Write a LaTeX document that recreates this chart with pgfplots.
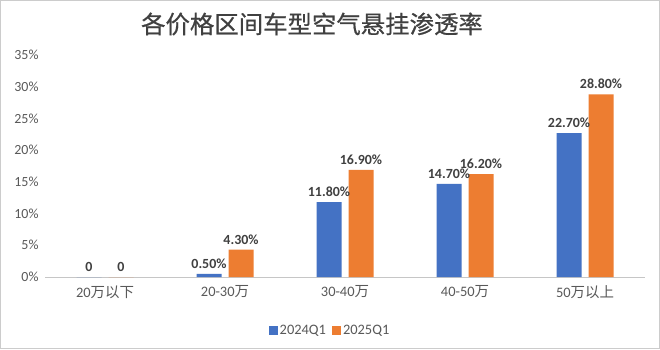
\documentclass[border=0pt]{standalone}
\usepackage{pgfplots}
\pgfplotsset{compat=1.18}
\usepackage{pgfplotstable}
\usepackage{fontspec}
\setmainfont{Carlito}
\newfontfamily\cjk{Noto Sans CJK SC}
\newfontfamily\cjktitle[FakeBold=0.6]{Noto Sans CJK SC}
\definecolor{cblue}{HTML}{4472C4}
\definecolor{corange}{HTML}{ED7D31}
\definecolor{tickgray}{HTML}{595959}
\definecolor{labgray}{HTML}{404040}
\pgfplotstableread{
x y label
0 0 0
1 0.5 0.50\%
2 11.8 11.80\%
3 14.7 14.70\%
4 22.7 22.70\%
}\dataA
\pgfplotstableread{
x y label
0 0 0
1 4.3 4.30\%
2 16.9 16.90\%
3 16.2 16.20\%
4 28.8 28.80\%
}\dataB
\begin{document}
\begin{tikzpicture}[x=1bp,y=1bp]
\draw[draw=gray!40, line width=1bp, fill=white] (0.5,0.5) rectangle (659.5,348.5);
\node[font={\cjktitle\fontsize{24.5}{30}\selectfont}, text=labgray] at (312,325) {各价格区间车型空气悬挂渗透率};
\begin{axis}[
  at={(45bp,72bp)}, anchor=south west,
  scale only axis, width=600bp, height=222bp,
  xmin=-0.5, xmax=4.5, ymin=0, ymax=35,
  axis x line*=bottom, axis y line*=left,
  y axis line style={draw=none},
  x axis line style={draw=gray!45, line width=0.8bp},
  xtick={0,1,2,3,4},
  xticklabels={{20{\cjk 万以下}},{20-30{\cjk 万}},{30-40{\cjk 万}},{40-50{\cjk 万}},{50{\cjk 万以上}}},
  ytick={0,5,...,35},
  yticklabel={\pgfmathprintnumber{\tick}\%},
  /pgf/number format/assume math mode=true,
  major tick length=0pt,
  xticklabel style={font=\fontsize{14.5}{16}\selectfont, text=tickgray, yshift=-5bp},
  yticklabel style={font=\fontsize{14}{16}\selectfont, text=tickgray, xshift=-3bp},
  ybar, bar width=25bp,
  clip=false,
  nodes near coords,
  point meta=explicit symbolic,
  every node near coord/.append style={font=\bfseries\fontsize{14}{16}\selectfont, text=labgray, yshift=2bp},
  legend style={at={(0.475,-0.24)}, anchor=center, draw=none, legend columns=2,
    font=\fontsize{14.5}{16}\selectfont, text=tickgray,
    /tikz/every even column/.append style={column sep=4bp}},
  legend image code/.code={\fill[#1] (0bp,-4.5bp) rectangle (9bp,4.5bp);},
]
\addplot[fill=cblue, draw=none, bar shift=-16bp] table[x=x,y=y,meta=label]{\dataA};
\addplot[fill=corange, draw=none, bar shift=16bp] table[x=x,y=y,meta=label]{\dataB};
\legend{2024Q1,2025Q1}
\end{axis}
\end{tikzpicture}
\end{document}
